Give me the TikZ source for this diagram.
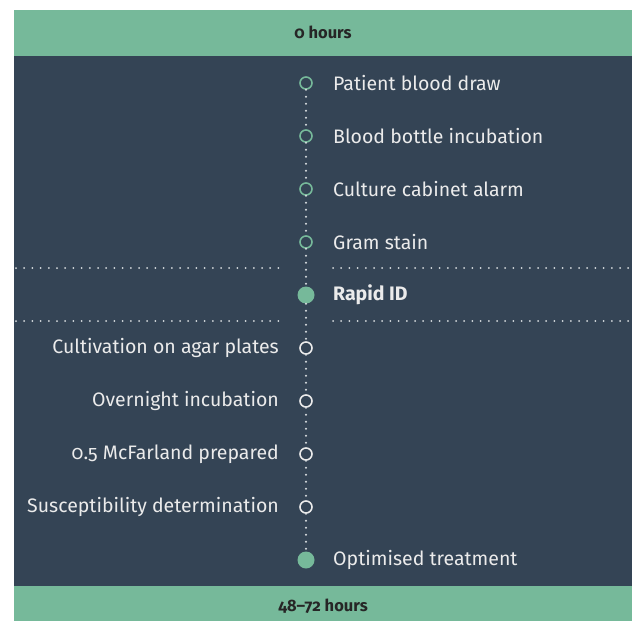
\documentclass[tikz,border=0pt]{standalone}
\usepackage{fontspec}
\setmainfont{Fira Sans}[Numbers=OldStyle]
\begin{document}
\begin{tikzpicture}[x=1bp,y=-1bp,
  font=\fontsize{19.5bp}{23bp}\selectfont,
  ring/.style={circle,draw=#1,line width=1.6bp,fill=darkbg,minimum size=12bp,inner sep=0pt},
  dotc/.style={circle,fill=mint,minimum size=17bp,inner sep=0pt},
  lblr/.style={anchor=west,text=lighttext,inner sep=0pt},
  lbll/.style={anchor=east,text=lighttext,inner sep=0pt},
  vdots/.style={draw=lightdot,line width=2.2bp,line cap=round,dash pattern=on 0bp off 7bp},
  hdots/.style={draw=lightdot,line width=2bp,line cap=round,dash pattern=on 0bp off 8.2bp},
  bar/.style={text=headtext,font=\fontsize{16.5bp}{20bp}\selectfont\bfseries}]
\definecolor{mint}{HTML}{76B99A}
\definecolor{darkbg}{HTML}{344455}
\definecolor{lighttext}{HTML}{EBEBEB}
\definecolor{lightdot}{HTML}{D8DDE0}
\definecolor{headtext}{HTML}{262626}
\useasboundingbox (0,0) rectangle (632,621);
\fill[white] (0,0) rectangle (632,621);
\fill[darkbg] (14,56) rectangle (632,586);
\fill[mint] (14,10) rectangle (632,56);
\fill[mint] (14,586) rectangle (632,621);
\node[bar] (top) at (323,32) {0 hours};
\node[bar] (bot) at (323,606) {48–72 hours};
% dotted separators
\coordinate (s1a) at (16,268); \coordinate (s1b) at (280,268);
\coordinate (s1c) at (333,268); \coordinate (s1d) at (632,268);
\coordinate (s2a) at (16,321); \coordinate (s2b) at (280,321);
\coordinate (s2c) at (333,321); \coordinate (s2d) at (632,321);
\draw[hdots] (s1a) -- (s1b);
\draw[hdots] (s1c) -- (s1d);
\draw[hdots] (s2a) -- (s2b);
\draw[hdots] (s2c) -- (s2d);
% timeline points
\node[ring=mint] (c1) at (306,83) {};
\node[ring=mint] (c2) at (306,136) {};
\node[ring=mint] (c3) at (306,189) {};
\node[ring=mint] (c4) at (306,242) {};
\node[dotc] (c5) at (306,295) {};
\node[ring=lighttext] (c6) at (306,348) {};
\node[ring=lighttext] (c7) at (306,401) {};
\node[ring=lighttext] (c8) at (306,454) {};
\node[ring=lighttext] (c9) at (306,507) {};
\node[dotc] (c10) at (306,560) {};
\foreach \a/\b in {c1/c2,c2/c3,c3/c4,c4/c5,c5/c6,c6/c7,c7/c8,c8/c9,c9/c10}
  \draw[vdots] (\a.south) -- (\b.north);
% labels
\node[lblr] (t1) at (333,83) {Patient blood draw};
\node[lblr] (t2) at (333,136) {Blood bottle incubation};
\node[lblr] (t3) at (333,189) {Culture cabinet alarm};
\node[lblr] (t4) at (333,242) {Gram stain};
\node[lblr,font=\fontsize{19.5bp}{23bp}\selectfont\bfseries] (t5) at (333,295) {Rapid ID};
\node[lbll] (t6) at (279,348) {Cultivation on agar plates};
\node[lbll] (t7) at (279,401) {Overnight incubation};
\node[lbll] (t8) at (279,454) {0.5 McFarland prepared};
\node[lbll] (t9) at (279,507) {Susceptibility determination};
\node[lblr] (t10) at (333,560) {Optimised treatment};
\end{tikzpicture}
\end{document}
